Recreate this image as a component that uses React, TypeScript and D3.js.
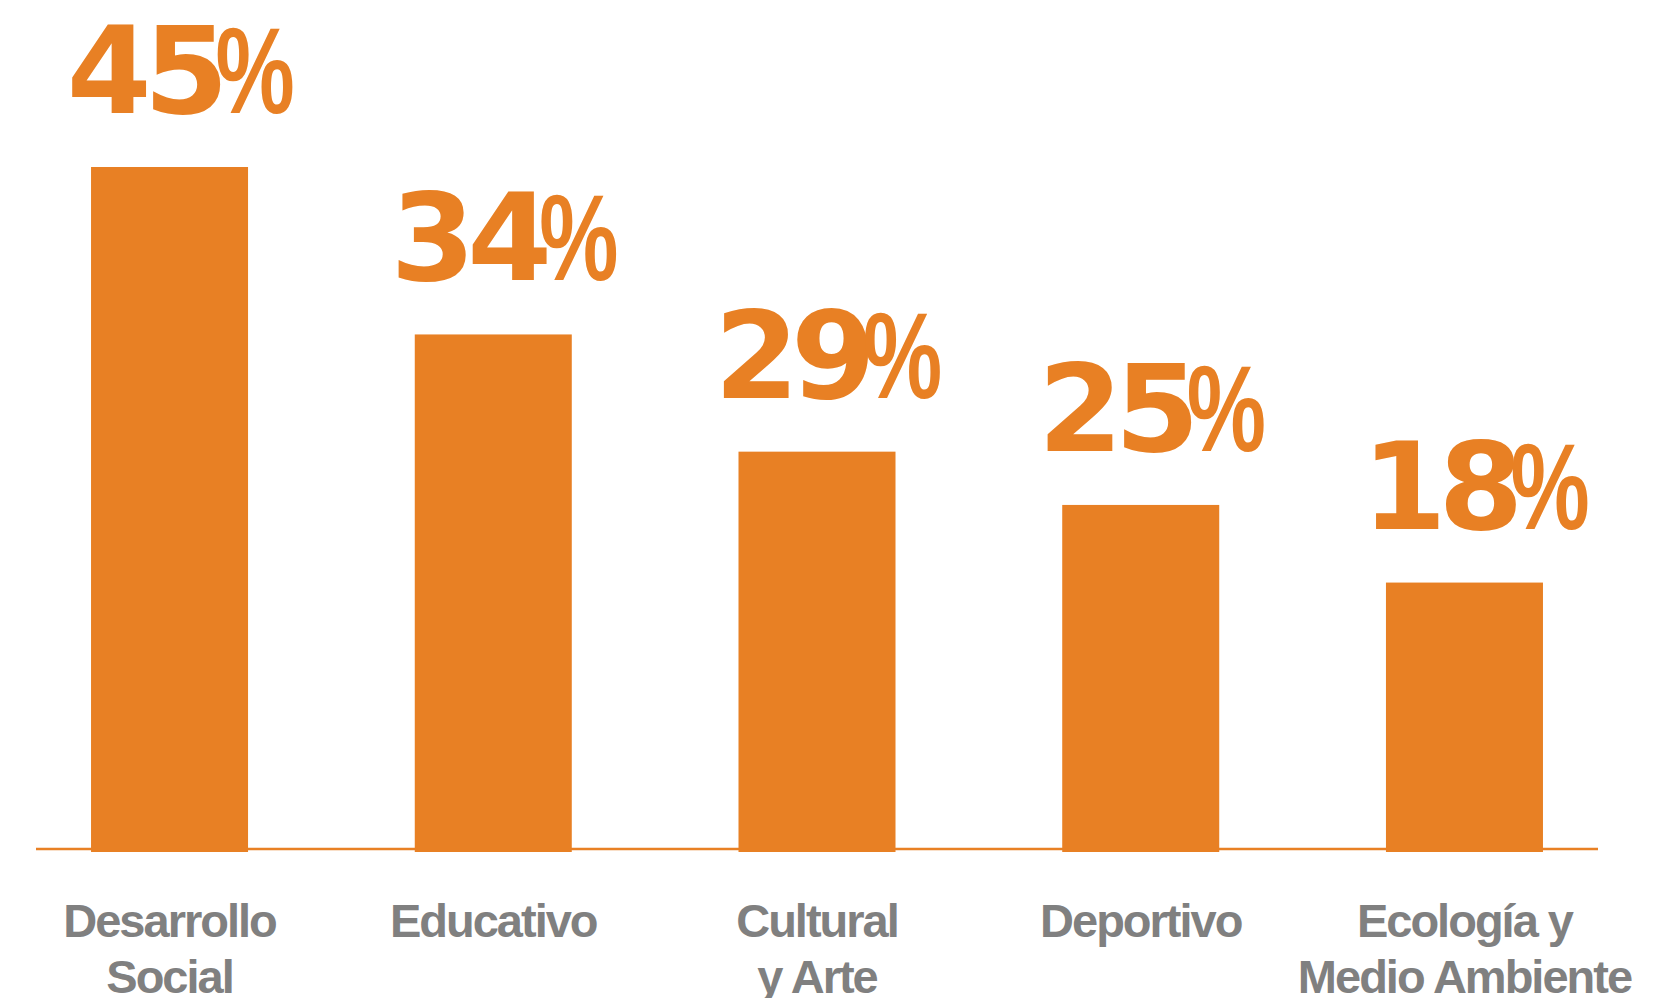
import React from 'react';
import * as d3 from 'd3';

// Categories and shares as printed on the chart
const categories = ['Desarrollo Social', 'Educativo', 'Cultural y Arte', 'Deportivo', 'Ecología y Medio Ambiente'];
const categoryLines = [
  ['Desarrollo', 'Social'],
  ['Educativo'],
  ['Cultural', 'y Arte'],
  ['Deportivo'],
  ['Ecología y', 'Medio Ambiente'],
];
const shares = [45, 34, 29, 25, 18];
// bar lengths (in % units); the source drew
// the 29% and 25% bars shorter than their labels
const barShares = [45, 34, 26.3, 22.8, 17.7];

const ORANGE = '#E88024';
const GREY = '#808080';

const width = 1656;
const height = 998;

export default function App() {
  const x = d3
    .scaleBand<string>()
    .domain(categories)
    .range([36, 1598])
    .paddingInner(0.515)
    .paddingOuter(0.17);

  const y = d3.scaleLinear().domain([0, 45]).range([852, 167]);

  const [r0, r1] = x.range();
  const bw = x.bandwidth();
  const pctScale = 0.73;

  return (
    <svg
      width={width}
      height={height}
      style={{ position: 'absolute', left: 0, top: 0, background: '#fff' }}
    >
      {/* baseline */}
      <line x1={r0} x2={r1} y1={849} y2={849} stroke={ORANGE} strokeWidth={2.6} />

      {/* bars */}
      {categories.map((c, i) => (
        <rect
          key={c}
          x={x(c)}
          y={y(barShares[i])}
          width={bw}
          height={y(0) - y(barShares[i])}
          fill={ORANGE}
        />
      ))}

      {/* value labels: digits plus a narrowed % sign */}
      {categories.map((c, i) => {
        const bc = (x(c) || 0) + bw / 2;
        const by = y(barShares[i]) - 54;
        return (
          <g key={c} fill={ORANGE} fontWeight={700}>
            <text
              x={bc + 51}
              y={by}
              textAnchor="end"
              letterSpacing={-8}
              fontFamily="'DejaVu Sans', sans-serif"
              fontSize={122}
            >
              {shares[i]}
            </text>
            <text
              x={(bc + 46) / pctScale}
              y={by}
              transform={`scale(${pctScale},1)`}
              fontFamily="'Liberation Sans', Arial, sans-serif"
              fontSize={122}
            >
              %
            </text>
          </g>
        );
      })}

      {/* category labels */}
      {categories.map((c, i) => {
        const cx = (x(c) || 0) + bw / 2;
        return (
          <text
            key={c}
            x={cx}
            textAnchor="middle"
            fill={GREY}
            fontFamily="'Liberation Sans', Arial, sans-serif"
            fontWeight={700}
            fontSize={47}
            letterSpacing={-2}
          >
            {categoryLines[i].map((line, j) => (
              <tspan key={j} x={cx} y={937 + j * 56}>
                {line}
              </tspan>
            ))}
          </text>
        );
      })}
    </svg>
  );
}
